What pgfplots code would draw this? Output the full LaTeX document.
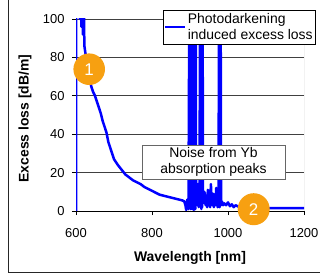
\documentclass[border=0pt]{standalone}
\usepackage{fontspec}
\setmainfont{Liberation Sans}
\usepackage{pgfplots}
\pgfplotsset{compat=1.18}
\usepackage{pgfplotstable}
\definecolor{orng}{RGB}{247,160,17}
\pgfplotstableread{
x y
600 0
600 150
602 105
604 150
606 103
608 150
610 100
612 150
614 96
616 140
618 92
620 120
622 86
625 82
630 76
635 70
640 65
645 62
650 60
655 57
660 54
665 51
670 47
675 44
680 41
685 36
690 33
695 30
700 27
710 24
720 21.5
730 19
740 17.5
750 16
760 15
770 14
780 12.5
790 11.5
800 10.5
810 9.5
820 8.5
830 8
840 7.5
850 7
860 6.5
870 6
880 5.5
885 5
888 3
890 0.5
893 6
896 1
899 150
900 2
901 150
902 1
903 150
904 3
905 150
906 1
907 150
908 2
909 150
910 0.5
911 150
912 2
913 150
914 1
915 150
916 3
917 8
919 12
920 3
921 14
923 2
925 5
927 150
928 3
929 150
930 1
931 150
932 2
933 150
934 4
936 5
938 10
941 3
943 8
945 2
947 11
949 3
951 7
953 2
955 14
957 5
959 3
961 9
963 2
965 7
967 3
969 12
971 4
973 2
975 3
977 150
978 2
980 150
982 3
984 5
987 3
990 4
995 3
1000 4.5
1005 2.5
1010 3.5
1015 2
1020 3
1030 2
1040 2.5
1050 2
1060 2
1080 1.5
1100 1.5
1120 1.5
1150 1.5
1180 1.5
1200 1.5
}\datatable
\begin{document}
\begin{tikzpicture}[x=1bp,y=1bp]
\path[use as bounding box] (0,0) rectangle (320,277);
\draw[black!85, line width=0.8bp] (8,277) -- (8,5) -- (320,5);
\begin{axis}[
  at={(76bp,66bp)}, anchor=south west,
  scale only axis, width=228bp, height=192bp,
  xmin=600, xmax=1200, ymin=0, ymax=100,
  xtick={600,800,1000,1200}, ytick={0,20,...,100},
  axis x line*=bottom, axis y line*=left,
  axis line style={black, line width=0.8bp},
  tick align=outside, major tick length=4bp,
  tick style={black, line width=0.7bp},
  ymajorgrids, major grid style={black!75, line width=0.6bp},
  ticklabel style={font=\fontsize{13}{15}\selectfont},
  xticklabel style={yshift=-10bp},
  yticklabel style={xshift=-4bp},
  /pgf/number format/assume math mode=true,
  /pgf/number format/1000 sep={},
  xlabel={Wavelength [nm]}, ylabel={Excess loss [dB/m]},
  label style={font=\bfseries\fontsize{14}{16}\selectfont},
  xlabel style={at={(axis description cs:0.5,-0.245)}, anchor=center},
  ylabel style={at={(axis description cs:-0.2237,0.482)}, anchor=center},
  legend style={at={(1.0526,1.047)}, anchor=north east, draw=black, line width=0.6bp,
    fill=white, font=\fontsize{14}{16}\selectfont, cells={align=left}, inner sep=1bp},
  legend cell align=left,
  legend image code/.code={\draw[blue, line width=2bp] (0bp,0bp) -- (20bp,0bp);},
]
\addplot[blue, line width=2.5bp, line join=round] table[x=x,y=y] {\datatable};
\addlegendentry{Photodarkening\\induced excess loss}
\draw[black!40, line width=0.8bp] (axis cs:1200,0) -- (axis cs:1200,100);
\end{axis}
\node[draw=black!60, line width=0.7bp, fill=white, minimum width=143bp, minimum height=34bp,
  align=center, inner sep=1bp, font=\fontsize{14}{16.5}\selectfont] at (213.5,115) {Noise from Yb\\absorption peaks};
\fill[orng] (89.2,207.8) circle (15.8);
\node[white, font=\fontsize{17}{19}\selectfont] at (89.2,207.8) {1};
\fill[orng] (253.7,67.8) circle (16);
\node[white, font=\fontsize{17}{19}\selectfont] at (253.7,67.8) {2};
\end{tikzpicture}
\end{document}
